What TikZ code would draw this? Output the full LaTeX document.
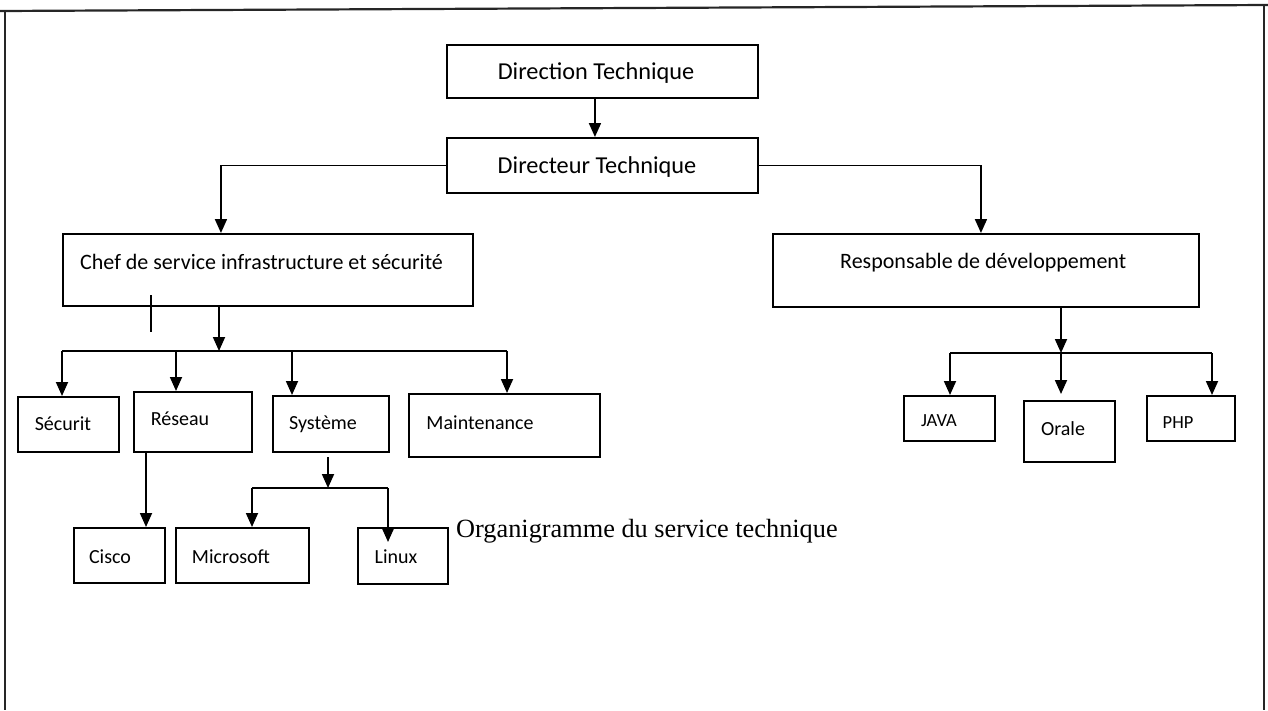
\documentclass[tikz,border=0pt]{standalone}
\usepackage{fontspec}
\setmainfont{Carlito}
\newfontfamily\titlefont{Liberation Serif}
\usetikzlibrary{arrows.meta,calc}
\begin{document}
\begin{tikzpicture}[x=1pt,y=-1pt,
  box/.style={draw, line width=1.9pt, inner sep=0pt, anchor=north west},
  conn/.style={line width=1.8pt},
  arr/.style={line width=1.8pt, -{Triangle[width=12pt,length=14pt]}},
  big/.style={font=\fontsize{22}{26}\selectfont, inner sep=0pt},
  bigger/.style={font=\fontsize{24.3}{28}\selectfont, inner sep=0pt},
  small/.style={font=\fontsize{20}{24}\selectfont, inner sep=0pt},
  smaller/.style={font=\fontsize{18.5}{22}\selectfont, inner sep=0pt},
  frame/.style={line width=2.2pt, black!85}]
\useasboundingbox (0,0) rectangle (1268,710);
% frame
\coordinate (f1) at (5,710);
\coordinate (f2) at (5,11);
\coordinate (f0) at (0,11);
\coordinate (f3) at (1268,5);
\coordinate (f4) at (1264,6);
\coordinate (f5) at (1264,710);
\draw[frame] (f0) -- (f3);
\draw[frame] (f2) -- (f1);
\draw[frame] (f4) -- (f5);
% boxes
\node[box, minimum width=311, minimum height=53] (dir) at (446,44) {};
\node[box, minimum width=311, minimum height=55] (dirr) at (446,137) {};
\node[box, minimum width=410, minimum height=72] (chef) at (62,233) {};
\node[box, minimum width=426, minimum height=73] (resp) at (772,233) {};
\node[box, minimum width=101, minimum height=55] (sec) at (17,396) {};
\node[box, minimum width=118, minimum height=60] (res) at (133,391) {};
\node[box, minimum width=116, minimum height=56] (sys) at (272,395) {};
\node[box, minimum width=191, minimum height=63] (maint) at (408,393) {};
\node[box, minimum width=91, minimum height=55] (cisco) at (73,527) {};
\node[box, minimum width=133, minimum height=55] (micro) at (175,527) {};
\node[box, minimum width=90, minimum height=56] (linux) at (357,527) {};
\node[box, minimum width=91, minimum height=45] (java) at (903,395) {};
\node[box, minimum width=91, minimum height=61] (orale) at (1023,400) {};
\node[box, minimum width=88, minimum height=45] (php) at (1146,395) {};
% texts
\node[bigger] (tdir) at (596,73) {Direction Technique};
\node[bigger] (tdirr) at (597,167) {Directeur Technique};
\node[big, anchor=west] (tchef) at (80,262) {Chef de service infrastructure et sécurité};
\node[big, anchor=west] (tresp) at (840,263) {Responsable de développement};
\node[small] (tsec) at (63,424) {Sécurit};
\node[small] (tres) at (180,419) {Réseau};
\node[small] (tsys) at (323,424) {Système};
\node[small] (tmaint) at (480,423) {Maintenance};
\node[small] (tcisco) at (110,557) {Cisco};
\node[small] (tmicro) at (231,557) {Microsoft};
\node[small] (tlinux) at (396,557) {Linux};
\node[smaller] (tjava) at (939,421) {JAVA};
\node[small] (torale) at (1063,429) {Orale};
\node[smaller] (tphp) at (1178,423) {PHP};
\node[inner sep=0pt, anchor=base west, font=\titlefont\fontsize{26.3}{30}\selectfont] (title) at (456,537) {Organigramme du service technique};
% top connectors
\draw[arr] ([xshift=-7.5pt]dir.south) -- ([xshift=-7.5pt]dirr.north);
\draw[arr] (dirr.west) -| ([xshift=-47pt]chef.north);
\draw[arr] (dirr.east) -| ([xshift=-5pt]resp.north);
% chef branch
\coordinate (bc) at (219,351);
\coordinate (bl) at (62,351);
\coordinate (br) at (507,351);
\coordinate (bres) at (176,351);
\coordinate (bsys) at (292,351);
\draw[arr] (chef.south -| bc) -- (bc);
\draw[conn] (bl) -- (br);
\draw[arr] (bl) -- (bl |- sec.north);
\draw[arr] (bres) -- (bres |- res.north);
\draw[arr] (bsys) -- (bsys |- sys.north);
\draw[arr] (br) -- (br |- maint.north);
% small tick
\coordinate (t1) at (151,295);
\coordinate (t2) at (151,332);
\draw[conn] (t1) -- (t2);
% reseau -> cisco
\coordinate (cx) at (146,490);
\draw[arr] (res.south -| cx) -- (cx |- cisco.north);
% systeme branch
\coordinate (ss) at (328,457);
\coordinate (sb) at (328,488);
\coordinate (sl) at (252,488);
\coordinate (sr) at (388,488);
\coordinate (lt) at (388,542);
\draw[arr] (ss) -- (sb);
\draw[conn] (sl) -- (sr);
\draw[arr] (sl) -- (sl |- micro.north);
\draw[arr] (sr) -- (lt);
% responsable branch
\coordinate (rb) at (1061,353);
\coordinate (rl) at (950,353);
\coordinate (rr) at (1212,353);
\coordinate (ro) at (1061,394);
\draw[arr] (resp.south -| rb) -- (rb);
\draw[conn] (rl) -- (rr);
\draw[arr] (rl) -- (rl |- java.north);
\draw[arr] (rb) -- (ro);
\draw[arr] (rr) -- (rr |- php.north);
\end{tikzpicture}
\end{document}
